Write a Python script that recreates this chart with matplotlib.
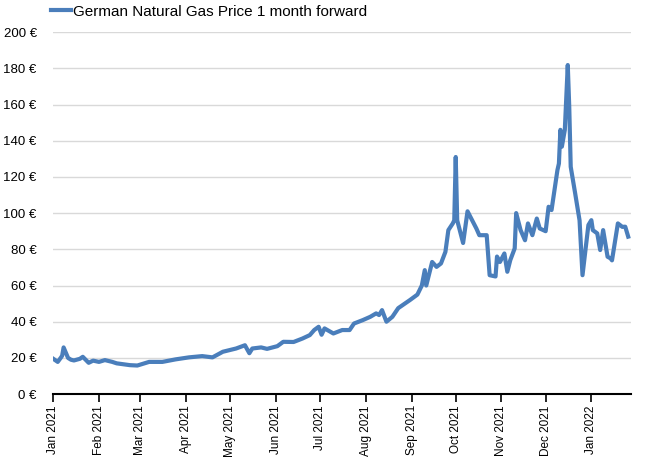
import numpy as np
import pandas as pd
import matplotlib
matplotlib.use('Agg')
import matplotlib.pyplot as plt
import matplotlib.dates as mdates
from matplotlib.ticker import FuncFormatter, MultipleLocator

plt.rcParams['font.family'] = ['Liberation Sans', 'DejaVu Sans']

# Werte (EUR/MWh)
dates = [
    '2021-01-01', '2021-01-04', '2021-01-06', '2021-01-07', '2021-01-08', '2021-01-11',
    '2021-01-13', '2021-01-15', '2021-01-19', '2021-01-21', '2021-01-25', '2021-01-28',
    '2021-02-01', '2021-02-05', '2021-02-10', '2021-02-13', '2021-02-22', '2021-02-27',
    '2021-03-07', '2021-03-16', '2021-03-25', '2021-04-03', '2021-04-12', '2021-04-19',
    '2021-04-26', '2021-05-05', '2021-05-11', '2021-05-14', '2021-05-16', '2021-05-22',
    '2021-05-26', '2021-06-02', '2021-06-06', '2021-06-13', '2021-06-19', '2021-06-24',
    '2021-06-27', '2021-06-30', '2021-07-02', '2021-07-04', '2021-07-10', '2021-07-16',
    '2021-07-21', '2021-07-24', '2021-07-30', '2021-08-04', '2021-08-08', '2021-08-10',
    '2021-08-12', '2021-08-15', '2021-08-19', '2021-08-23', '2021-08-31', '2021-09-05',
    '2021-09-08', '2021-09-10', '2021-09-11', '2021-09-15', '2021-09-18', '2021-09-21',
    '2021-09-24', '2021-09-26', '2021-09-29', '2021-09-30', '2021-10-01', '2021-10-02',
    '2021-10-06', '2021-10-09', '2021-10-15', '2021-10-17', '2021-10-22', '2021-10-24',
    '2021-10-28', '2021-10-29', '2021-10-31', '2021-11-03', '2021-11-05', '2021-11-07',
    '2021-11-10', '2021-11-11', '2021-11-14', '2021-11-17', '2021-11-19', '2021-11-22',
    '2021-11-25', '2021-11-27', '2021-12-01', '2021-12-03', '2021-12-05', '2021-12-09',
    '2021-12-10', '2021-12-11', '2021-12-12', '2021-12-14', '2021-12-16', '2021-12-17',
    '2021-12-18', '2021-12-21', '2021-12-24', '2021-12-26', '2021-12-28', '2021-12-30',
    '2022-01-01', '2022-01-02', '2022-01-05', '2022-01-07', '2022-01-09', '2022-01-12',
    '2022-01-14', '2022-01-15', '2022-01-19', '2022-01-22', '2022-01-24', '2022-01-26',
]
prices = [
    19.5, 17.8, 20.0, 21.2, 25.8, 20.0,
    19.0, 18.6, 19.5, 20.6, 17.3, 18.5,
    17.8, 18.8, 17.8, 17.0, 16.0, 15.8,
    17.8, 17.8, 19.2, 20.3, 21.0, 20.3,
    23.4, 25.2, 27.0, 22.6, 25.2, 25.8,
    25.0, 26.5, 28.9, 28.8, 30.7, 32.6,
    35.4, 37.2, 32.8, 36.3, 33.5, 35.4,
    35.4, 39.0, 40.9, 42.7, 44.6, 43.7,
    46.4, 40.0, 42.7, 47.5, 52.0, 55.0,
    60.0, 68.5, 60.0, 73.0, 70.3, 72.2,
    78.6, 90.6, 94.3, 96.0, 131.0, 96.0,
    83.5, 101.0, 91.5, 87.8, 87.8, 65.7,
    65.0, 76.0, 73.0, 77.7, 67.6, 74.0,
    80.5, 100.0, 90.6, 85.0, 94.3, 87.8,
    97.0, 91.5, 90.0, 103.5, 101.7, 123.8,
    127.4, 146.0, 136.7, 146.0, 181.8, 158.7,
    125.6, 111.0, 96.0, 65.7, 79.6, 93.4,
    96.1, 90.6, 88.8, 79.6, 90.6, 75.9,
    75.0, 73.9, 94.3, 92.4, 92.5, 87.0,
]
series_name = 'German Natural Gas Price 1 month forward'

x = pd.to_datetime(dates)

fig = plt.figure(figsize=(6.5, 4.72), dpi=100)
ax = fig.add_axes([0.082, 0.165, 0.889, 0.767])

line, = ax.plot(x, prices, color='#4a7ebb', lw=3.0, solid_joinstyle='round',
                label=series_name, zorder=3)

ax.set_ylim(0, 200)
ax.yaxis.set_major_locator(MultipleLocator(20))
ax.yaxis.set_major_formatter(FuncFormatter(lambda v, p: f'{int(v)} €'))
ax.grid(axis='y', color='#d9d9d9', lw=1.0)
ax.set_axisbelow(True)

ax.set_xlim(pd.Timestamp('2021-01-01'), pd.Timestamp('2022-01-28'))
ax.xaxis.set_major_locator(mdates.MonthLocator())
ax.xaxis.set_major_formatter(mdates.DateFormatter('%b %Y'))
for lbl in ax.get_xticklabels():
    lbl.set_rotation(90)

for s in ['top', 'right', 'left']:
    ax.spines[s].set_visible(False)
ax.spines['bottom'].set_color('black')
ax.spines['bottom'].set_linewidth(1.5)
ax.spines['bottom'].set_zorder(4)

ax.tick_params(axis='y', length=0, pad=12, labelsize=9.5)
ax.tick_params(axis='x', length=6, width=1.2, color='black', pad=2, labelsize=8.5)

fig.legend(handles=[line], loc='center left', bbox_to_anchor=(0.078, 0.975),
           frameon=False, fontsize=11, handlelength=1.3, handletextpad=0.15,
           borderpad=0, borderaxespad=0)

fig.savefig('out.png', dpi=100)
